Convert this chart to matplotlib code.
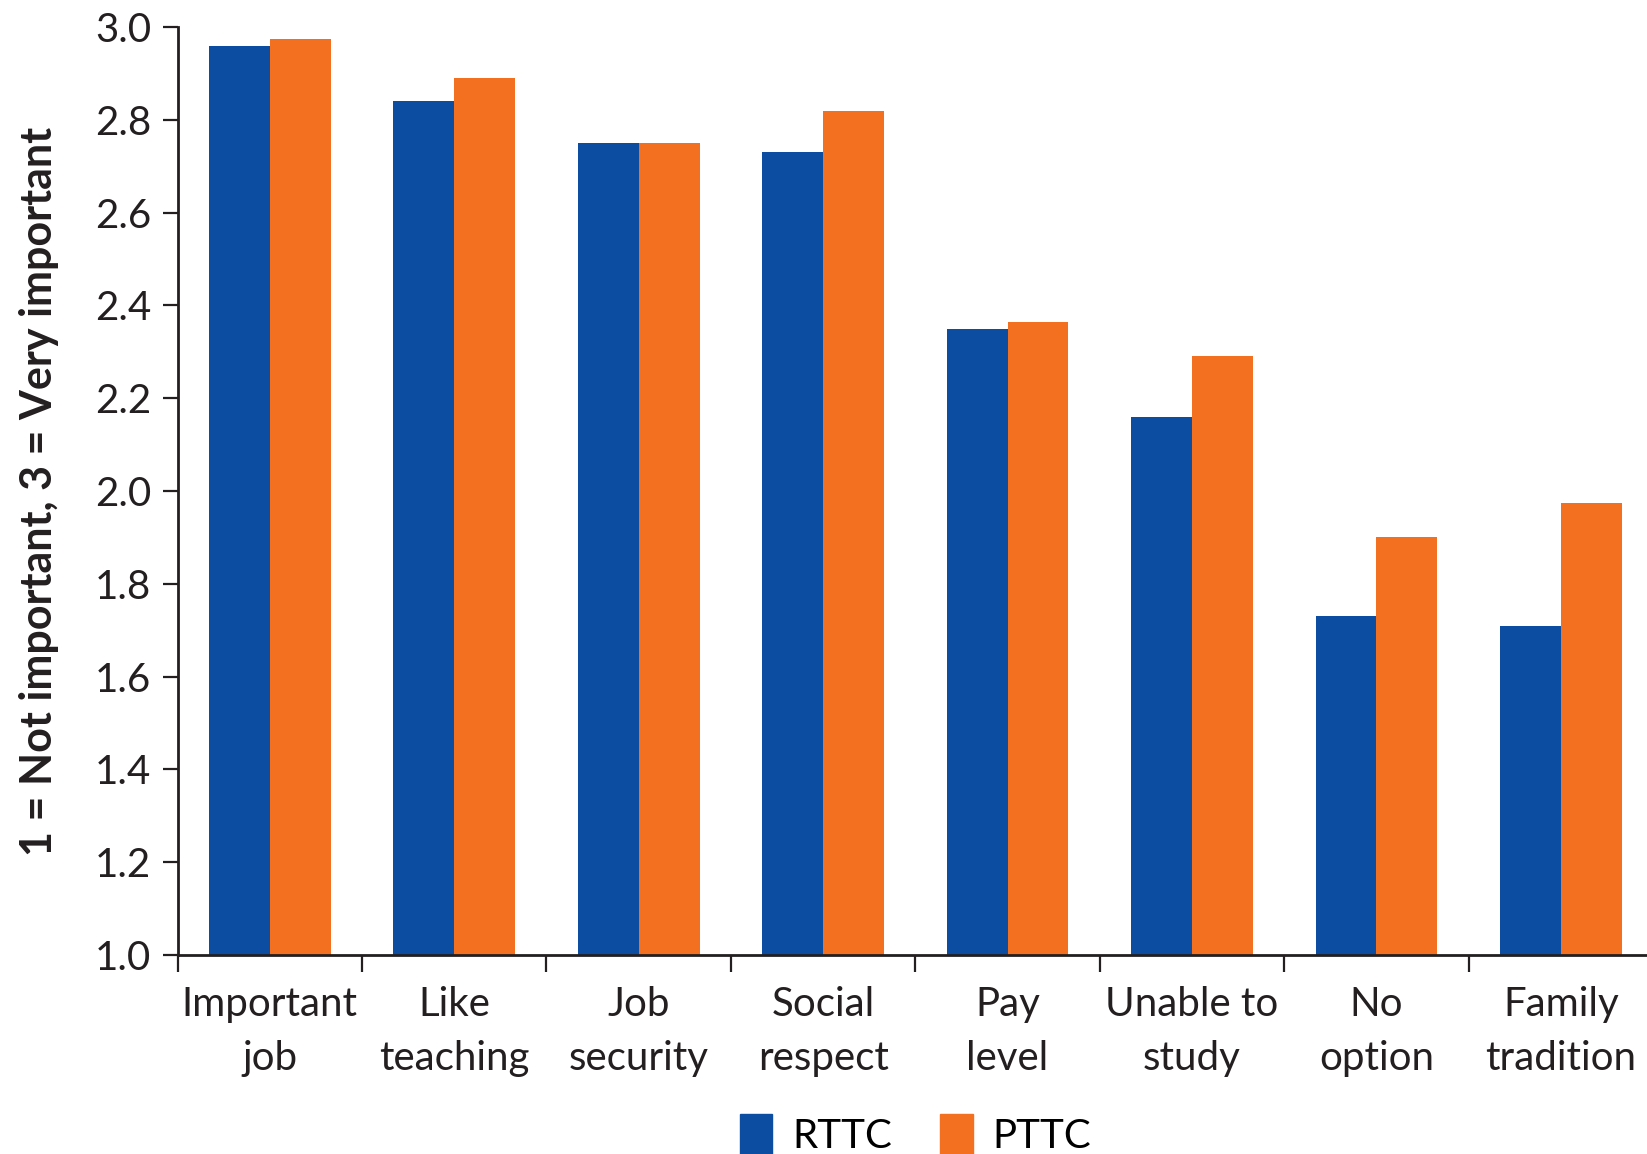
import numpy as np
import matplotlib
matplotlib.use("Agg")
import matplotlib.pyplot as plt
from matplotlib.patches import Patch

plt.rcParams['font.family'] = ['Lato', 'DejaVu Sans']

# data
categories = ["Important\njob", "Like\nteaching", "Job\nsecurity", "Social\nrespect",
              "Pay\nlevel", "Unable to\nstudy", "No\noption", "Family\ntradition"]
rttc = [2.96, 2.84, 2.75, 2.73, 2.35, 2.16, 1.73, 1.71]
pttc = [2.975, 2.89, 2.75, 2.82, 2.365, 2.29, 1.90, 1.975]
yticks = [1.0, 1.2, 1.4, 1.6, 1.8, 2.0, 2.2, 2.4, 2.6, 2.8, 3.0]

blue = "#0C4DA2"
orange = "#F37021"

fig = plt.figure(figsize=(16.47, 11.54), dpi=100)
ax = fig.add_axes([0.1078, 0.1724, 0.8959, 0.8042])

x = np.arange(len(categories))
w = 0.33
ax.bar(x - w/2, rttc, w, color=blue, zorder=2)
ax.bar(x + w/2, pttc, w, color=orange, zorder=2)

ax.set_ylim(1.0, 3.0)
ax.set_xlim(-0.5, len(categories) - 0.5)
ax.set_yticks(yticks)
ax.set_yticklabels([f"{v:.1f}" for v in yticks])

ax.set_xticks(x)
ax.set_xticklabels(categories, linespacing=1.58)
ax.set_xticks(np.arange(len(categories) + 1) - 0.5, minor=True)
ax.tick_params(axis='x', which='major', length=0, pad=22, labelsize=29, colors='#231F20')
ax.tick_params(axis='x', which='minor', length=12, width=1.6, color='#231F20')
ax.tick_params(axis='y', length=11, width=1.6, pad=8, labelsize=29, colors='#231F20')

for s in ['top', 'right']:
    ax.spines[s].set_visible(False)
for s in ['left', 'bottom']:
    ax.spines[s].set_linewidth(2)
    ax.spines[s].set_color('#231F20')

ax.set_ylabel("1 = Not important, 3 = Very important", fontsize=31, fontweight='bold',
              color='#231F20', labelpad=26)

handles = [Patch(color=blue, label="RTTC"), Patch(color=orange, label="PTTC")]
fig.legend(handles=handles, loc='center', bbox_to_anchor=(0.556, 0.017), ncol=2,
           frameon=False, fontsize=29, handlelength=0.8, handleheight=1.2,
           handletextpad=0.5, columnspacing=1.2, borderpad=0.1)

fig.savefig("out.png", dpi=100)
